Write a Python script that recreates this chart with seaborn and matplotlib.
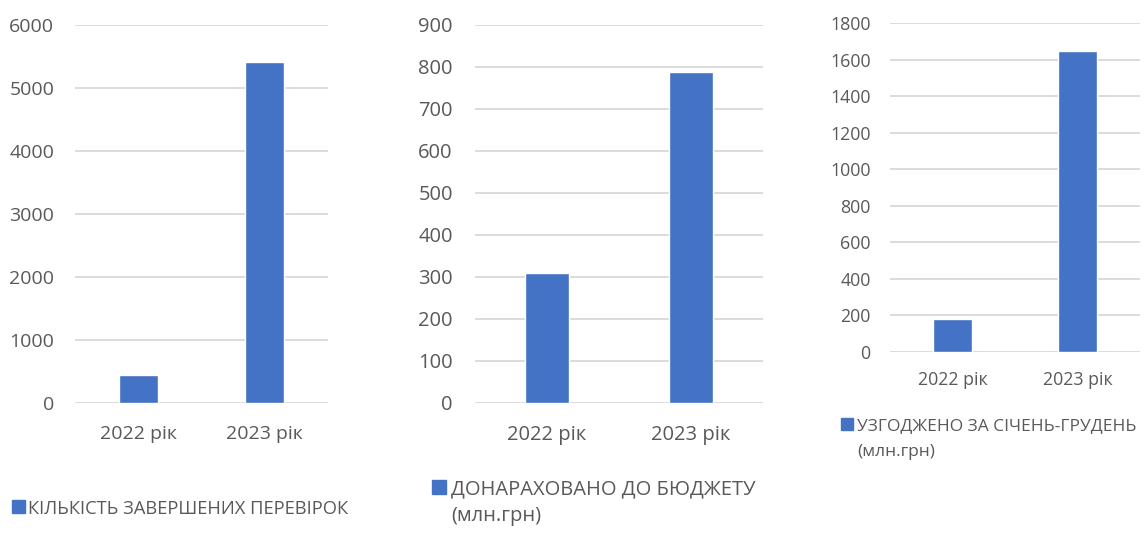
import matplotlib
matplotlib.use("Agg")
import matplotlib.pyplot as plt
import seaborn as sns
from matplotlib.patches import Rectangle

# ---------- data ----------
years = ["2022 рік", "2023 рік"]
checks_done = [445, 5420]
budget_added = [310, 787]
agreed_total = [183, 1645]

ticks_checks = [0, 1000, 2000, 3000, 4000, 5000, 6000]
ticks_budget = [0, 100, 200, 300, 400, 500, 600, 700, 800, 900]
ticks_agreed = [0, 200, 400, 600, 800, 1000, 1200, 1400, 1600, 1800]

legend_checks = ["КІЛЬКІСТЬ ЗАВЕРШЕНИХ ПЕРЕВІРОК"]
legend_budget = ["ДОНАРАХОВАНО ДО БЮДЖЕТУ", "(млн.грн)"]
legend_agreed = ["УЗГОДЖЕНО ЗА СІЧЕНЬ-ГРУДЕНЬ", "(млн.грн)"]

BLUE = "#4472C4"
GREY = "#595959"
GRID = "#D9D9D9"

sns.set_theme(style="white")
plt.rcParams["font.family"] = ["Open Sans", "DejaVu Sans"]

W, H = 1148, 535
fig = plt.figure(figsize=(W / 100, H / 100), dpi=100)


def px_axes(x0, x1, ytop, ybot):
    return fig.add_axes([x0 / W, 1 - ybot / H, (x1 - x0) / W, (ybot - ytop) / H])


def draw_panel(ax, values, ticks, fsize, ypad, xpad):
    sns.barplot(x=years, y=values, color=BLUE, width=0.31, saturation=1, ax=ax)
    ax.set_ylim(ticks[0], ticks[-1])
    ax.set_yticks(ticks)
    ax.set_xlim(-0.5, 1.5)
    ax.set_xlabel("")
    ax.set_ylabel("")
    ax.set_axisbelow(True)
    ax.yaxis.grid(True, color=GRID, linewidth=1.3)
    for s in ax.spines.values():
        s.set_visible(False)
    ax.tick_params(axis="y", length=0, pad=ypad, labelsize=fsize, labelcolor=GREY)
    ax.tick_params(axis="x", length=0, pad=xpad, labelsize=fsize, labelcolor=GREY)


def draw_legend(x, ytop, size, lines, tx, baselines, fsize):
    fig.patches.append(Rectangle((x / W, 1 - (ytop + size) / H), size / W, size / H,
                                 transform=fig.transFigure, color=BLUE))
    for line, b in zip(lines, baselines):
        fig.text(tx / W, 1 - b / H, line, ha="left", va="baseline",
                 fontsize=fsize, color=GREY)


ax1 = px_axes(75, 328, 25, 403)
draw_panel(ax1, checks_done, ticks_checks, 14, 15, 16)

ax2 = px_axes(475, 763, 25, 403)
draw_panel(ax2, budget_added, ticks_budget, 14.5, 16, 16)

ax3 = px_axes(890, 1140, 23, 352)
draw_panel(ax3, agreed_total, ticks_agreed, 12.8, 14, 14)

draw_legend(12, 500, 13, legend_checks, 28, [514], 13.2)
draw_legend(432, 480, 14, legend_budget, 451, [494, 521], 14.5)
draw_legend(841, 418, 12, legend_agreed, 857, [430, 456], 12.5)

fig.savefig("out.png", dpi=100, facecolor="white")
